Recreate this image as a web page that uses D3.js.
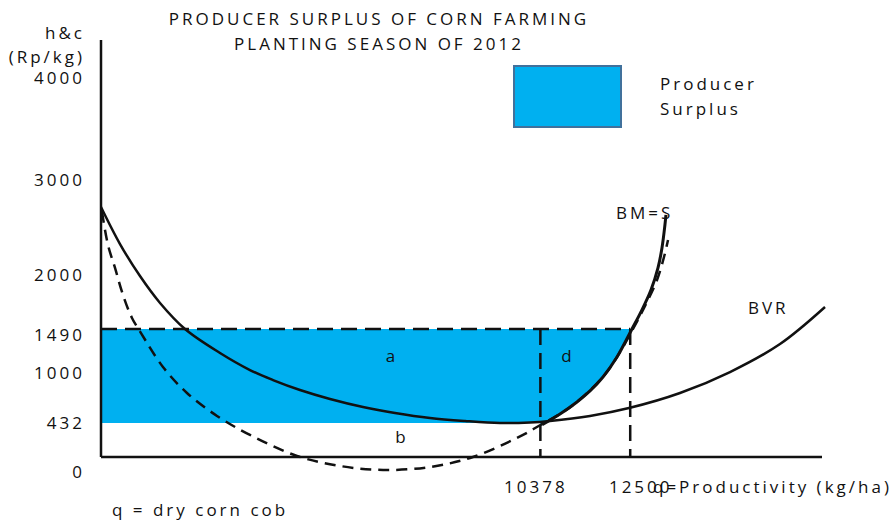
<!DOCTYPE html>
<html>
<head>
<meta charset="utf-8">
<script src="https://cdn.jsdelivr.net/npm/d3@7"></script>
<style>
  body { margin: 0; background: #fff; }
  svg { display: block; }
  text { font-family: "Open Sans", sans-serif; font-size: 17px; letter-spacing: 3px; fill: #111; }
</style>
</head>
<body>
<div id="chart"></div>
<script>
// axis labels (price in Rp/kg, productivity in kg/ha)
const yTicks = [0, 432, 1000, 1490, 2000, 3000, 4000];
const xTicks = [10378, 12500];

// surplus bounds
const priceLevel = 1490;
const minCost = 432;
const qStar = 10378;
const qMax = 12500;

// solid U curve (average cost) continuing as BVR
const acQ = [0, 449, 921, 1394, 1984, 2811, 3519, 4063, 4700, 5409, 6188, 6944, 7771, 8598, 9424, 10133, 10605, 11550, 12471, 13676, 14857, 16038, 17101];
const acH = [2716, 2326, 1990, 1736, 1490, 1223, 1033, 920, 807, 705, 614, 546, 489, 455, 432, 438, 455, 512, 602, 773, 1011, 1323, 1698];

// dashed U curve
const mcQ = [24, 165, 331, 520, 732, 945, 1464, 2031, 2740, 3519, 4630, 5645, 6661, 7771, 8786, 9968, 10378, 10842, 11243, 11857, 12188, 12566, 12873, 13133, 13298, 13393];
const mcH = [2663, 2316, 2074, 1811, 1594, 1445, 1067, 773, 512, 280, 13, -114, -165, -127, 0, 280, 407, 534, 671, 955, 1178, 1490, 1726, 1953, 2189, 2368];

// BM = S (supply)
const supplyQ = [10420, 10842, 11243, 11550, 11857, 12188, 12542, 12754, 12990, 13156, 13250, 13320, 13344];
const supplyH = [410, 534, 671, 796, 955, 1178, 1490, 1651, 1858, 2074, 2284, 2526, 2632];

const width = 892, height = 521;
const cyan = "#00B0F0";

const svg = d3.select("#chart").append("svg")
    .attr("width", width)
    .attr("height", height);

const x = d3.scaleLinear().domain([0, 17030]).range([101, 822]);
// schematic, uneven price axis
const y = d3.scaleLinear().domain(yTicks).range([457, 423, 373, 329, 275, 180, 78]);

const pts = (qs, hs) => qs.map((q, i) => [q, hs[i]]);
const line = d3.line()
    .x(d => x(d[0]))
    .y(d => y(d[1]))
    .curve(d3.curveCatmullRom);

// producer surplus region: price line, supply curve, min cost line
const supplyPts = pts(supplyQ, supplyH);
const edge = supplyPts.filter(d => d[1] <= priceLevel).reverse();
const qCross = edge[0][0];
const edgePath = line(edge).replace(/^M/, "L");
const regionPath = `M${x(0)},${y(priceLevel)}L${x(qCross)},${y(priceLevel)}` + edgePath +
    `L${x(qStar)},${y(381)}L${x(qStar)},${y(minCost)}L${x(0)},${y(minCost)}Z`;
svg.append("path")
    .attr("d", regionPath)
    .attr("fill", cyan);

// dashed guide lines
const guides = svg.append("g")
    .attr("stroke", "#111")
    .attr("stroke-width", 2.5)
    .attr("stroke-dasharray", "16,8");
guides.append("line")
    .attr("x1", x(0)).attr("y1", y(priceLevel))
    .attr("x2", x(qMax)).attr("y2", y(priceLevel));
xTicks.forEach(q => {
    guides.append("line")
        .attr("x1", x(q)).attr("y1", y(priceLevel))
        .attr("x2", x(q)).attr("y2", y(0));
});

// curves
svg.append("path")
    .attr("d", line(pts(mcQ, mcH)))
    .attr("fill", "none")
    .attr("stroke", "#111")
    .attr("stroke-width", 2.5)
    .attr("stroke-dasharray", "11,7");

svg.append("path")
    .attr("d", line(pts(acQ, acH)))
    .attr("fill", "none")
    .attr("stroke", "#111")
    .attr("stroke-width", 2.5);

svg.append("path")
    .attr("d", line(supplyPts))
    .attr("fill", "none")
    .attr("stroke", "#111")
    .attr("stroke-width", 3);

// axes
svg.append("line")
    .attr("x1", x(0)).attr("y1", 40)
    .attr("x2", x(0)).attr("y2", y(0))
    .attr("stroke", "#111").attr("stroke-width", 2.5);
svg.append("line")
    .attr("x1", x(0)).attr("y1", y(0))
    .attr("x2", 822).attr("y2", y(0))
    .attr("stroke", "#111").attr("stroke-width", 2.5);

const yAxis = svg.append("g")
    .attr("transform", "translate(85,0)")
    .call(d3.axisLeft(y).tickValues(yTicks).tickSize(0).tickPadding(0).tickFormat(d3.format("d")));
yAxis.select(".domain").remove();
yAxis.selectAll("text")
    .attr("fill", "#111")
    .style("font-size", "17px")
    .style("font-family", "\"Open Sans\", sans-serif")
    .attr("dy", d => d === 0 ? "1.2em" : d === priceLevel ? "0.7em" : "0.35em");

const xAxis = svg.append("g")
    .attr("transform", `translate(0,${y(0)})`)
    .call(d3.axisBottom(x).tickValues(xTicks).tickSize(0).tickPadding(24).tickFormat(d3.format("d")));
xAxis.select(".domain").remove();
xAxis.selectAll("text")
    .attr("fill", "#111")
    .style("font-size", "17px")
    .style("font-family", "\"Open Sans\", sans-serif")
    .attr("dx", d => d === qMax ? "10" : "-5");

// axis titles
svg.append("text").attr("x", 85).attr("y", 39).attr("text-anchor", "end").text("h&c");
svg.append("text").attr("x", 85).attr("y", 63).attr("text-anchor", "end").text("(Rp/kg)");
svg.append("text").attr("x", 653).attr("y", 493).text("q=Productivity (kg/ha)");
svg.append("text").attr("x", 112).attr("y", 516).text("q = dry corn cob");

// title
svg.append("text").attr("x", 379).attr("y", 25).attr("text-anchor", "middle")
    .text("PRODUCER SURPLUS OF CORN FARMING");
svg.append("text").attr("x", 379).attr("y", 50).attr("text-anchor", "middle")
    .text("PLANTING SEASON OF 2012");

// region and curve labels
svg.append("text").attr("x", 392).attr("y", 362).attr("text-anchor", "middle").text("a");
svg.append("text").attr("x", 568).attr("y", 362).attr("text-anchor", "middle").text("d");
svg.append("text").attr("x", 402).attr("y", 443).attr("text-anchor", "middle").text("b");
svg.append("text").attr("x", 616).attr("y", 219).text("BM=S");
svg.append("text").attr("x", 748).attr("y", 314).text("BVR");

// legend
svg.append("rect")
    .attr("x", 514).attr("y", 66)
    .attr("width", 107).attr("height", 61)
    .attr("fill", cyan)
    .attr("stroke", "#41719C")
    .attr("stroke-width", 2);
svg.append("text").attr("x", 660).attr("y", 90).text("Producer");
svg.append("text").attr("x", 660).attr("y", 115).text("Surplus");
</script>
</body>
</html>
